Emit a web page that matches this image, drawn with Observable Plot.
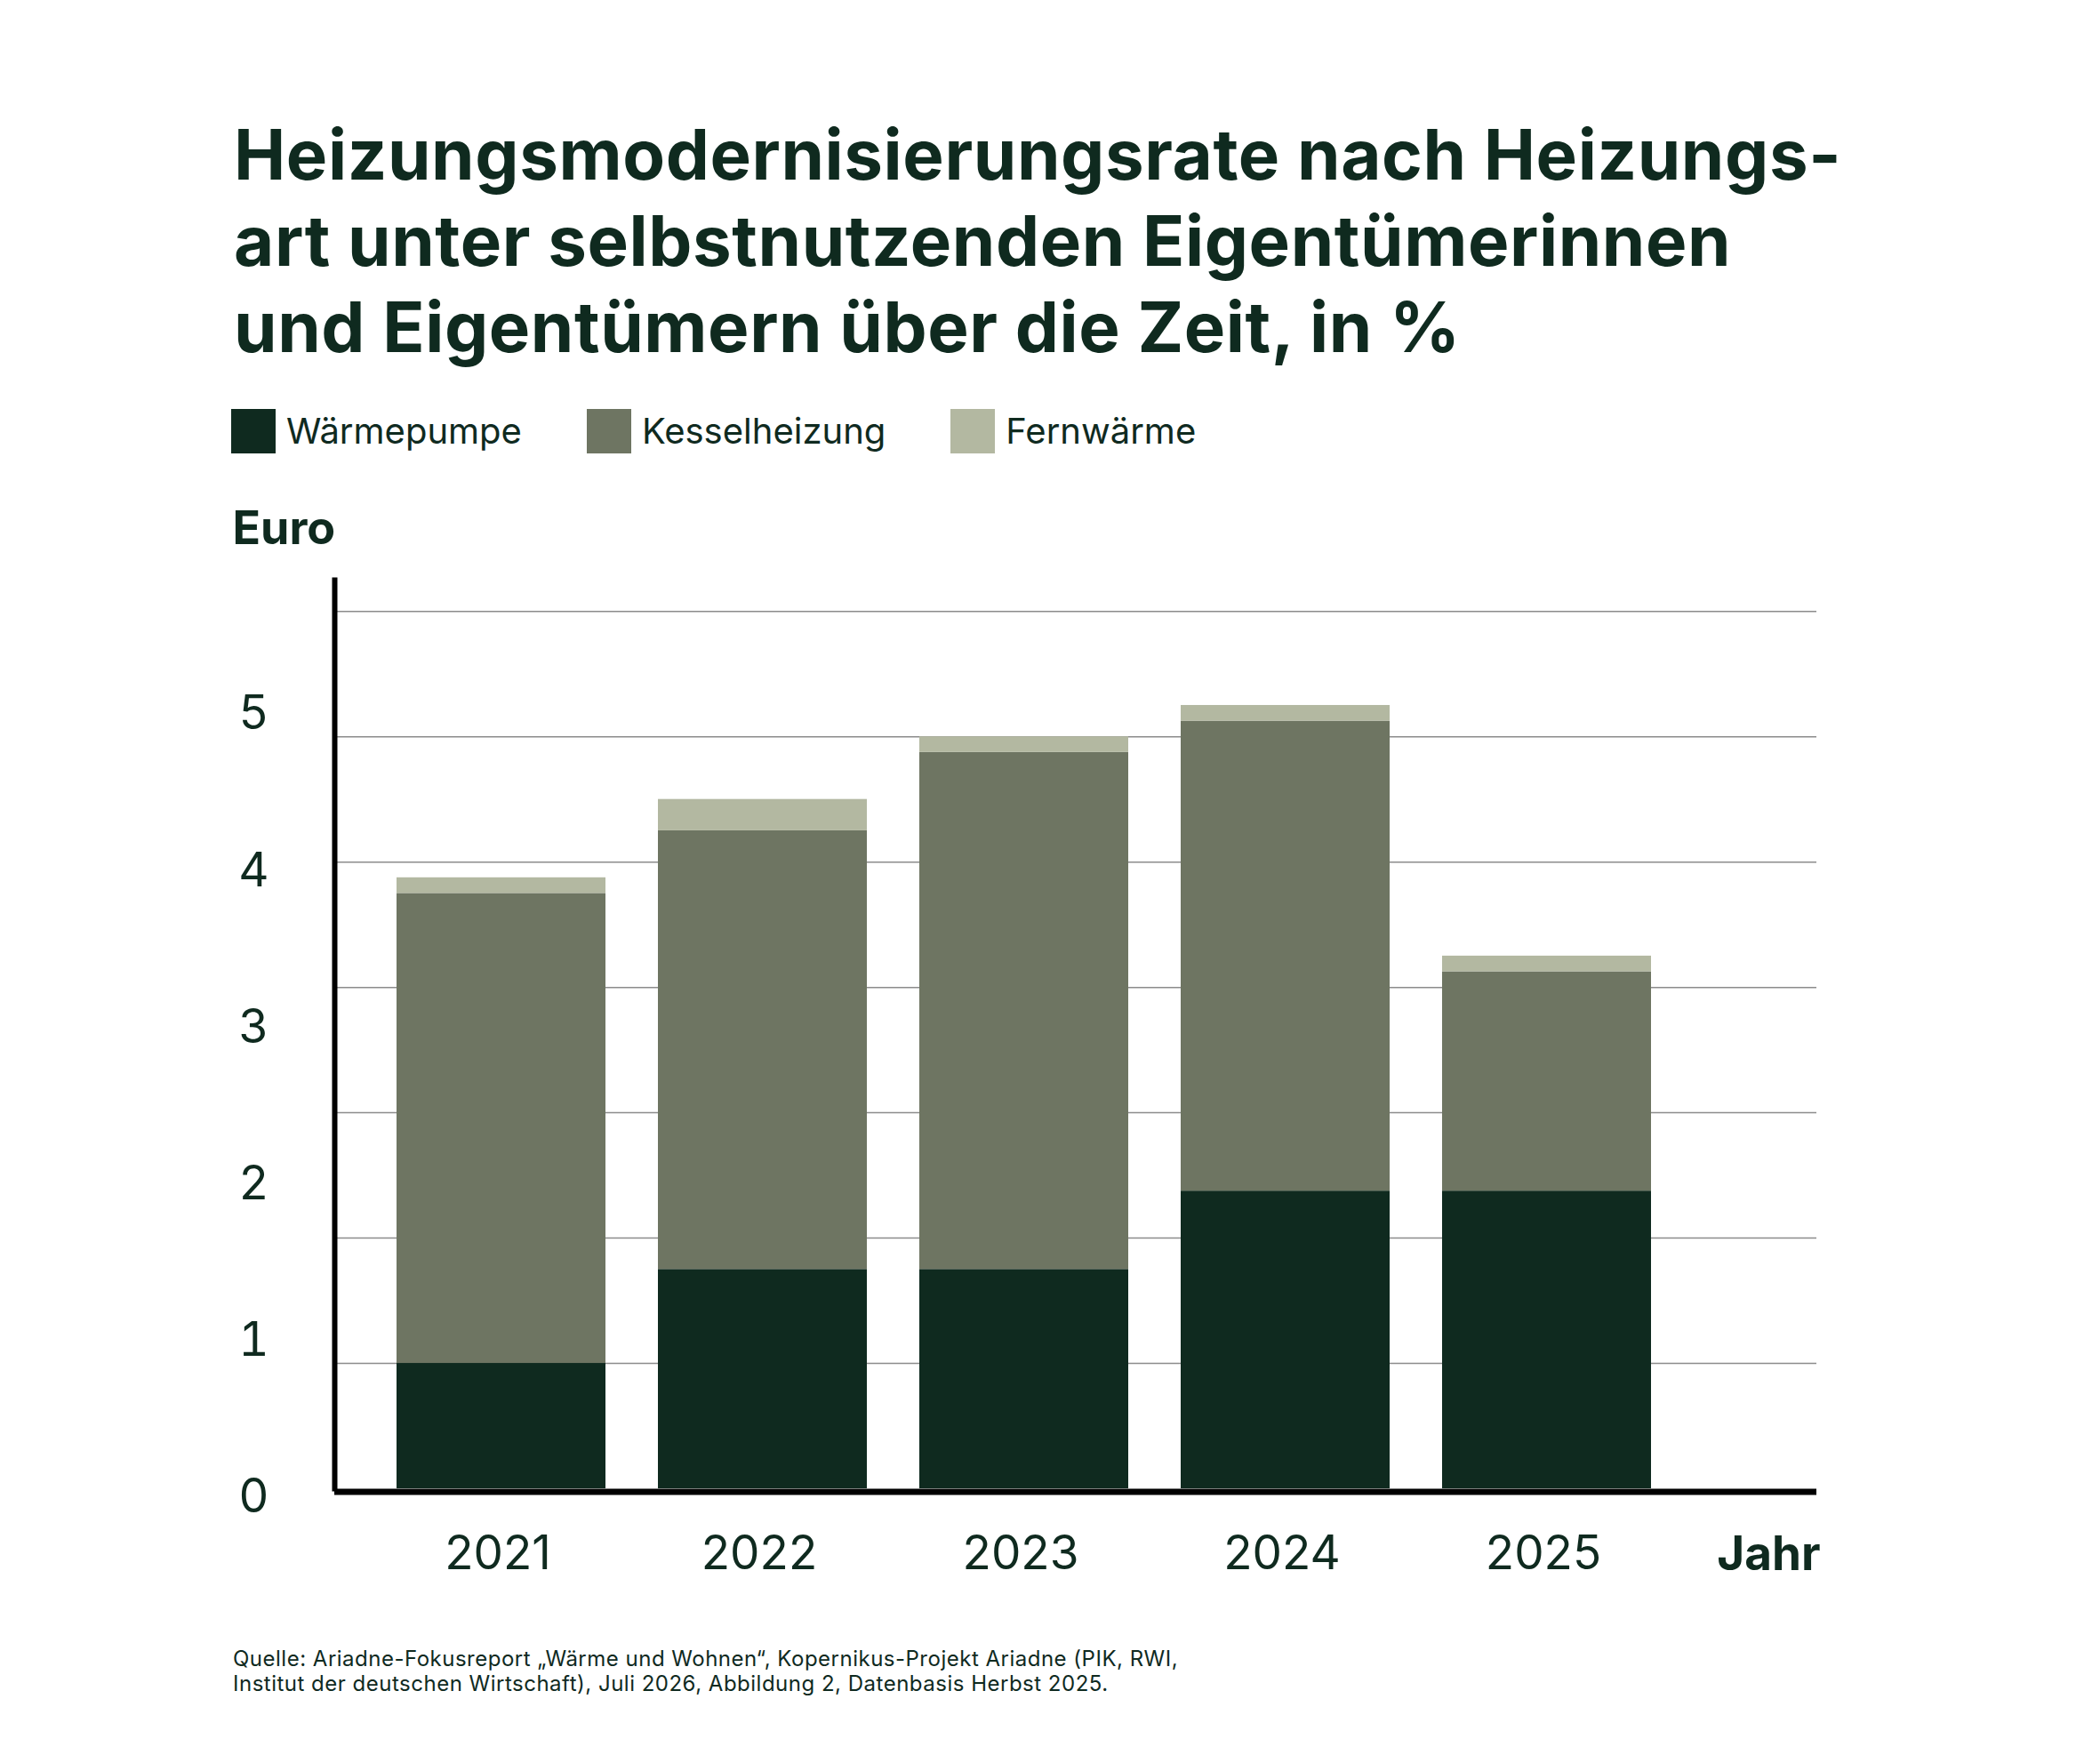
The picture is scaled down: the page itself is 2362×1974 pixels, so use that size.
<!DOCTYPE html>
<html>
<head>
<meta charset="utf-8">
<script src="https://cdn.jsdelivr.net/npm/d3@7"></script>
<script src="https://cdn.jsdelivr.net/npm/@observablehq/plot@0.6"></script>
<style>
  body { margin: 0; background: #ffffff; }
  #page { position: relative; width: 2362px; height: 1974px; font-family: Inter, "Noto Sans", sans-serif; color: #0f2a1f; }
  h1 { position: absolute; left: 263px; top: 125px; margin: 0; font-size: 78px; line-height: 97px; font-weight: 700; letter-spacing: 0.6px; white-space: nowrap; }
  #legend { position: absolute; left: 260px; top: 460px; display: flex; align-items: center; }
  .item { display: flex; align-items: center; margin-right: 73px; }
  .sw { width: 50px; height: 50px; margin-right: 12px; }
  .lab { font-size: 40px; line-height: 50px; font-weight: 400; }
  #chart { position: absolute; left: 0; top: 540px; }
  #footer { position: absolute; left: 262px; top: 1852px; font-size: 24px; line-height: 28px; font-weight: 400; letter-spacing: 0.5px; white-space: nowrap; }
</style>
</head>
<body>
<div id="page">
  <h1>Heizungsmodernisierungsrate nach Heizungs-<br>art unter selbstnutzenden Eigentümerinnen<br>und Eigentümern über die Zeit, in %</h1>
  <div id="legend"></div>
  <div id="chart"></div>
  <div id="footer">Quelle: Ariadne-Fokusreport „Wärme und Wohnen“, Kopernikus-Projekt Ariadne (PIK, RWI,<br>Institut der deutschen Wirtschaft), Juli 2026, Abbildung 2, Datenbasis Herbst 2025.</div>
</div>
<script>
const years = ["2021", "2022", "2023", "2024", "2025"];
const waermepumpe = [0.8, 1.4, 1.4, 1.9, 1.9];
const kesselheizung = [3.0, 2.8, 3.3, 3.0, 1.4];
const fernwaerme = [0.1, 0.2, 0.1, 0.1, 0.1];
const seriesNames = ["Wärmepumpe", "Kesselheizung", "Fernwärme"];
const seriesColors = ["#0f2a1f", "#6e7562", "#b3b8a1"];
const yTicks = [0, 1, 2, 3, 4, 5];
const gridValues = [0.8, 1.6, 2.4, 3.2, 4.0, 4.8, 5.6];
const yLabel = "Euro";
const xLabel = "Jahr";

const seriesValues = [waermepumpe, kesselheizung, fernwaerme];
const data = [];
years.forEach((year, i) => {
  seriesNames.forEach((s, j) => data.push({year, series: s, value: seriesValues[j][i]}));
});

// legend
const legend = document.getElementById("legend");
seriesNames.forEach((s, j) => {
  const item = document.createElement("div");
  item.className = "item";
  const sw = document.createElement("div");
  sw.className = "sw";
  sw.style.background = seriesColors[j];
  const lab = document.createElement("span");
  lab.className = "lab";
  lab.textContent = s;
  item.appendChild(sw);
  item.appendChild(lab);
  legend.appendChild(item);
});

const chart = Plot.plot({
  width: 2362,
  height: 1260,
  marginTop: 112,
  marginBottom: 126,
  marginLeft: 376,
  marginRight: 319,
  style: {fontFamily: "Inter, 'Noto Sans', sans-serif", color: "#0f2a1f", background: "transparent", overflow: "visible"},
  x: {domain: years, range: [386, 1917], padding: 0.2, axis: null},
  y: {domain: [0, 5.8], axis: null},
  color: {domain: seriesNames, range: seriesColors},
  marks: [
    Plot.ruleY(gridValues, {stroke: "#8c8c8c", strokeWidth: 1.5}),
    Plot.barY(data, {x: "year", y: "value", fill: "series", order: seriesNames}),
    Plot.ruleY([0], {stroke: "#000000", strokeWidth: 7, dy: 3.5}),
    Plot.frame({anchor: "left", stroke: "#000000", strokeWidth: 6}),
    Plot.axisY(yTicks, {tickSize: 0, tickPadding: 74, fontSize: 53, fontWeight: 400, dy: 10, label: null, tickFormat: d => String(d)}),
    Plot.axisX({tickSize: 0, tickPadding: 53, fontSize: 53, fontWeight: 400, label: null, dx: -4}),
    Plot.text([yLabel], {text: d => d, frameAnchor: "top-left", textAnchor: "start", lineAnchor: "top", dx: -115, dy: -77, fontSize: 52, fontWeight: 700, fill: "#0f2a1f"}),
    Plot.text([xLabel], {text: d => d, frameAnchor: "bottom-right", textAnchor: "end", lineAnchor: "top", dx: 4, dy: 54, fontSize: 53, fontWeight: 700, fill: "#0f2a1f"})
  ]
});
document.getElementById("chart").appendChild(chart);
</script>
</body>
</html>
